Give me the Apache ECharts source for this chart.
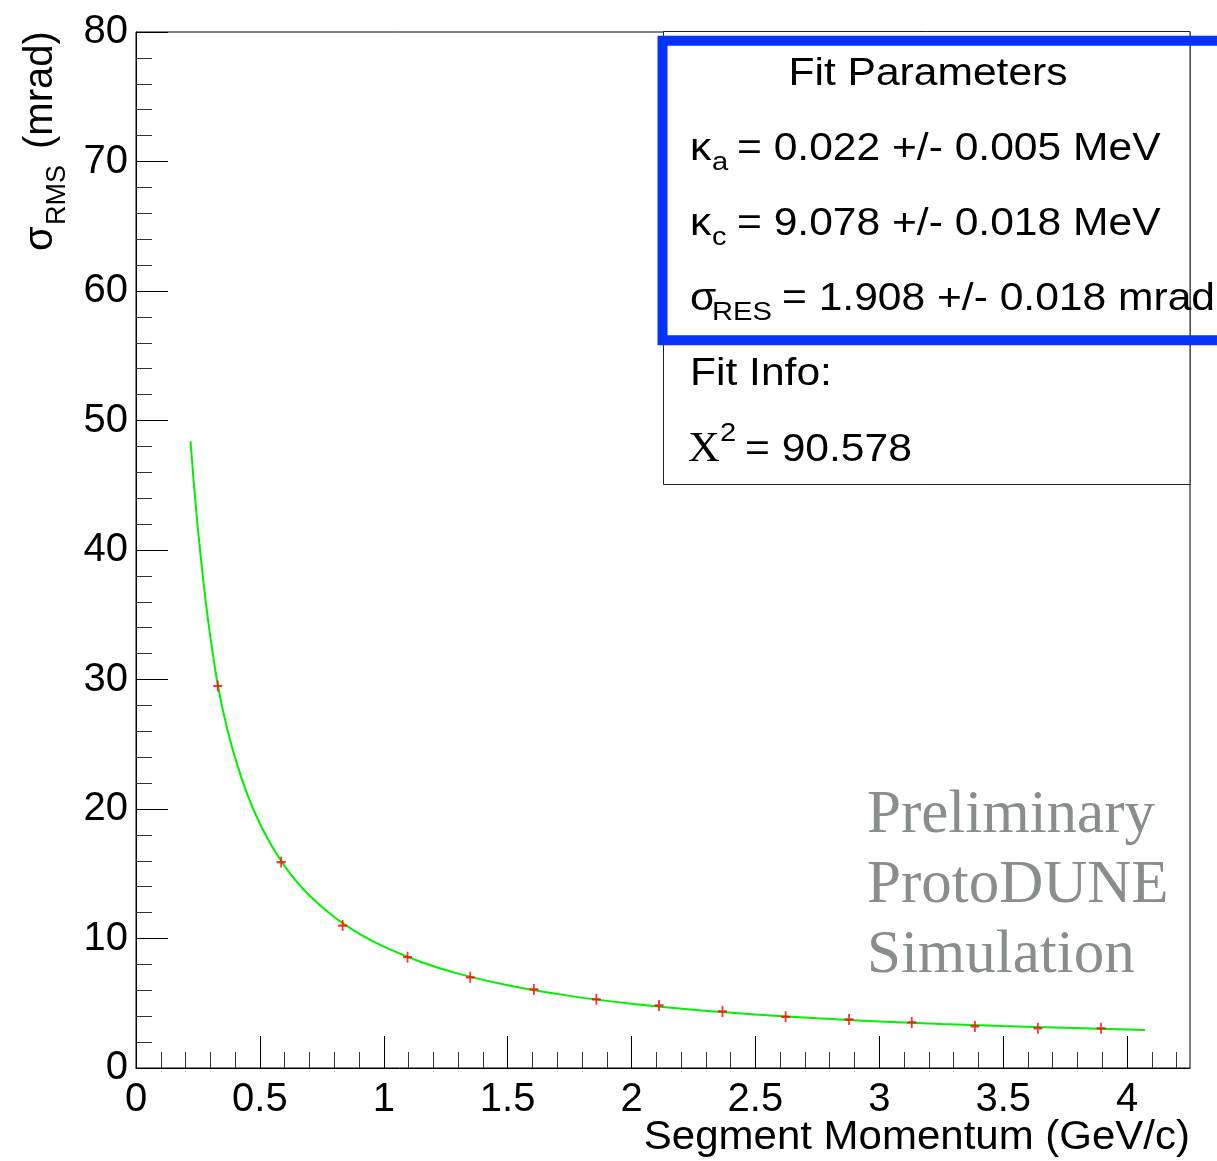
<!DOCTYPE html>
<html>
<head>
<meta charset="utf-8">
<script src="https://cdn.jsdelivr.net/npm/echarts@6/dist/echarts.min.js"></script>
<style>
html,body{margin:0;padding:0;background:#fff;}
#chart{width:1217px;height:1161px;}
</style>
</head>
<body>
<div id="chart"></div>
<script>
// Measured points (segment momentum in GeV/c, sigma RMS in mrad)
const pointX = [0.330, 0.586, 0.834, 1.096, 1.349, 1.606, 1.858, 2.111, 2.367, 2.622, 2.878, 3.131, 3.386, 3.640, 3.895];
const pointY = [29.5, 15.9, 11.0, 8.56, 7.00, 6.07, 5.30, 4.83, 4.37, 3.95, 3.75, 3.52, 3.21, 3.06, 3.06];
// Fit curve
const fitX = [0.220, 0.235, 0.250, 0.270, 0.290, 0.310, 0.330, 0.360, 0.400, 0.450, 0.500, 0.560, 0.620, 0.700, 0.800, 0.900, 1.000, 1.150, 1.300, 1.500, 1.750, 2.000, 2.250, 2.500, 2.750, 3.000, 3.250, 3.500, 3.750, 4.072];
const fitY = [48.4, 44.8, 41.6, 37.9, 34.7, 32.0, 29.6, 26.85, 23.95, 21.09, 18.86, 16.75, 15.07, 13.32, 11.66, 10.38, 9.37, 8.19, 7.29, 6.39, 5.57, 4.96, 4.49, 4.125, 3.835, 3.60, 3.40, 3.24, 3.10, 2.94];
// Tick values
const xMajorTicks = [0, 0.5, 1, 1.5, 2, 2.5, 3, 3.5, 4];
const xMinorTicks = [0.1, 0.2, 0.3, 0.4, 0.6, 0.7, 0.8, 0.9, 1.1, 1.2, 1.3, 1.4, 1.6, 1.7, 1.8, 1.9, 2.1, 2.2, 2.3, 2.4, 2.6, 2.7, 2.8, 2.9, 3.1, 3.2, 3.3, 3.4, 3.6, 3.7, 3.8, 3.9, 4.1, 4.2];
const yTickInterval = 10;
const xTitle = 'Segment Momentum (GeV/c)';

const SANS = "'Liberation Sans', Arial, Helvetica, sans-serif";
const SERIF = "'Liberation Serif', 'Times New Roman', serif";

function txt(x, baseline, text, fs, opts) {
  opts = opts || {};
  const family = opts.family || SANS;
  const k = family === SERIF ? 0.338 : 0.347;
  const align = opts.align || 'left';
  return {
    type: 'text', z: 200, x: x, y: baseline - k * fs,
    scaleX: opts.sx == null ? 1.12 : opts.sx,
    style: {
      text: text, font: fs + 'px ' + family, fill: opts.color || '#000',
      align: align, textAlign: align, verticalAlign: 'middle', textVerticalAlign: 'middle'
    }
  };
}
function vtxt(baselineX, startY, text, fs) {
  return {
    type: 'text', z: 200, x: baselineX - 0.347 * fs, y: startY, rotation: Math.PI / 2,
    style: {
      text: text, font: fs + 'px ' + SANS, fill: '#000',
      align: 'left', textAlign: 'left', verticalAlign: 'middle', textVerticalAlign: 'middle'
    }
  };
}

const chart = echarts.init(document.getElementById('chart'), null, {renderer: 'canvas'});
const option = {
  animation: false,
  backgroundColor: '#fff',
  grid: {left: 136, right: 27, top: 32, bottom: 93, show: true, borderColor: '#000', borderWidth: 1,
    backgroundColor: 'transparent', containLabel: false, outerBoundsMode: 'none'},
  xAxis: [{
    type: 'value', min: 0, max: 4.254,
    axisLine: {show: true, lineStyle: {color: '#000', width: 1}},
    axisTick: {show: true, inside: true, length: 32, customValues: xMajorTicks, lineStyle: {color: '#000', width: 1}},
    axisLabel: {show: true, customValues: xMajorTicks, fontSize: 40, fontFamily: SANS, color: '#000', margin: 12,
      formatter: function (v) { return String(v); }},
    splitLine: {show: false}
  }, {
    type: 'value', min: 0, max: 4.254, position: 'bottom',
    axisLine: {show: false},
    axisTick: {show: true, inside: true, length: 16, customValues: xMinorTicks, lineStyle: {color: '#333', width: 1}},
    axisLabel: {show: false},
    splitLine: {show: false}
  }],
  yAxis: {
    type: 'value', min: 0, max: 80, interval: yTickInterval,
    axisLine: {show: true, lineStyle: {color: '#000', width: 1}},
    axisTick: {show: true, inside: true, length: 32, lineStyle: {color: '#000', width: 1}},
    minorTick: {show: true, splitNumber: 5, length: 16, lineStyle: {color: '#333', width: 1}},
    axisLabel: {fontSize: 40, fontFamily: SANS, color: '#000', margin: 8},
    splitLine: {show: false}, minorSplitLine: {show: false}
  },
  series: [{
    type: 'line', name: 'fit', xAxisIndex: 0,
    data: fitX.map((x, i) => [x, fitY[i]]),
    showSymbol: false, symbol: 'none', smooth: 0.3,
    lineStyle: {color: '#00f000', width: 2}, z: 3
  }, {
    type: 'scatter', name: 'data', xAxisIndex: 0,
    data: pointX.map((x, i) => [x, pointY[i]]),
    symbol: 'path://M4,0 L6,0 L6,4 L10,4 L10,6 L6,6 L6,10 L4,10 L4,6 L0,6 L0,4 L4,4 Z',
    symbolSize: [9, 11],
    itemStyle: {color: '#ff0000'}, z: 4
  }],
  graphic: {elements: [
    // stats box
    {type: 'rect', z: 150, shape: {x: 663.5, y: 31.5, width: 526.5, height: 453}, style: {fill: '#fff', stroke: '#222', lineWidth: 1}},
    {type: 'rect', z: 160, shape: {x: 662.5, y: 40.7, width: 620, height: 299.5}, style: {fill: 'none', stroke: '#0433ff', lineWidth: 10}},
    txt(928, 88, 'Fit Parameters', 38, {align: 'center'}),
    txt(690, 163, 'κ', 38), txt(712, 172, 'a', 26), txt(737, 163, '= 0.022 +/- 0.005 MeV', 38),
    txt(690, 238, 'κ', 38), txt(712, 247, 'c', 26), txt(737, 238, '= 9.078 +/- 0.018 MeV', 38),
    txt(690, 313, 'σ', 38), txt(712, 322, 'RES', 26), txt(782, 313, '= 1.908 +/- 0.018 mrad', 38),
    txt(690, 388, 'Fit Info:', 38),
    txt(688, 464, 'X', 42, {family: SERIF, sx: 1.05}), txt(720, 443, '2', 26), txt(745, 464, '= 90.578', 38),
    // watermark
    txt(867, 837, 'Preliminary', 61, {family: SERIF, sx: 1, color: '#898d8d'}),
    txt(867, 907, 'ProtoDUNE', 61, {family: SERIF, sx: 1, color: '#898d8d'}),
    txt(867, 977, 'Simulation', 61, {family: SERIF, sx: 1, color: '#898d8d'}),
    // axis titles
    txt(1190, 1152, xTitle, 40, {align: 'right', sx: 1.05}),
    vtxt(55, 251, 'σ', 40), vtxt(67, 225, 'RMS', 27), vtxt(55, 149, '(mrad)', 40)
  ]}
};
chart.setOption(option);
</script>
</body>
</html>
